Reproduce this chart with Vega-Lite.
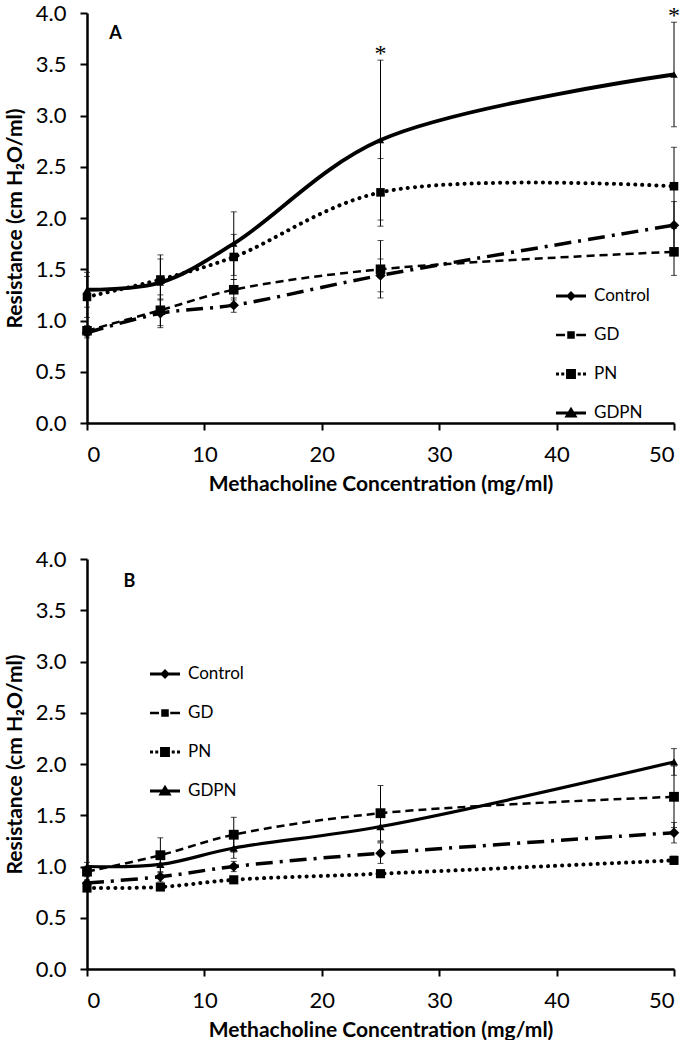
{
  "$schema": "https://vega.github.io/schema/vega-lite/v6.json",
  "background": "white",
  "padding": {"left": 4, "top": 2, "right": 0, "bottom": 0},
  "spacing": 54,
  "config": {
    "view": {"stroke": null},
    "font": "Lato",
    "axis": {
      "grid": false,
      "domainColor": "black",
      "domainWidth": 2.5,
      "tickColor": "black",
      "tickWidth": 2,
      "tickSize": 7,
      "labelFont": "Lato",
      "labelFontSize": 22,
      "labelColor": "black",
      "titleFont": "Lato",
      "titleFontSize": 21,
      "titleFontWeight": "bold",
      "titleColor": "black"
    },
    "legend": {
      "labelFont": "Lato",
      "labelFontSize": 17,
      "labelColor": "black"
    }
  },
  "datasets": {
    "A": [
      {"series": "Control", "conc": 0, "mean": 0.88, "err": 0.05},
      {"series": "Control", "conc": 6.25, "mean": 1.07, "err": 0.14},
      {"series": "Control", "conc": 12.5, "mean": 1.15, "err": 0.07},
      {"series": "Control", "conc": 25, "mean": 1.44, "err": 0.16},
      {"series": "Control", "conc": 50, "mean": 1.93, "err": 0.23},
      {"series": "GD", "conc": 0, "mean": 0.9, "err": 0.05},
      {"series": "GD", "conc": 6.25, "mean": 1.1, "err": 0.15},
      {"series": "GD", "conc": 12.5, "mean": 1.3, "err": 0.1},
      {"series": "GD", "conc": 25, "mean": 1.5, "err": 0.28},
      {"series": "GD", "conc": 50, "mean": 1.67, "err": 0.23},
      {"series": "PN", "conc": 0, "mean": 1.23, "err": 0.2},
      {"series": "PN", "conc": 6.25, "mean": 1.4, "err": 0.2},
      {"series": "PN", "conc": 12.5, "mean": 1.62, "err": 0.22},
      {"series": "PN", "conc": 25, "mean": 2.25, "err": 0.33},
      {"series": "PN", "conc": 50, "mean": 2.31, "err": 0.38},
      {"series": "GDPN", "conc": 0, "mean": 1.3, "err": 0.17},
      {"series": "GDPN", "conc": 6.25, "mean": 1.37, "err": 0.27},
      {"series": "GDPN", "conc": 12.5, "mean": 1.75, "err": 0.31},
      {"series": "GDPN", "conc": 25, "mean": 2.76, "err": 0.78},
      {"series": "GDPN", "conc": 50, "mean": 3.4, "err": 0.51}
    ],
    "B": [
      {"series": "Control", "conc": 0, "mean": 0.84, "err": 0.03},
      {"series": "Control", "conc": 6.25, "mean": 0.9, "err": 0.05},
      {"series": "Control", "conc": 12.5, "mean": 1.0, "err": 0.05},
      {"series": "Control", "conc": 25, "mean": 1.13, "err": 0.1},
      {"series": "Control", "conc": 50, "mean": 1.33, "err": 0.1},
      {"series": "GD", "conc": 0, "mean": 0.95, "err": 0.05},
      {"series": "GD", "conc": 6.25, "mean": 1.11, "err": 0.17},
      {"series": "GD", "conc": 12.5, "mean": 1.31, "err": 0.17},
      {"series": "GD", "conc": 25, "mean": 1.52, "err": 0.27},
      {"series": "GD", "conc": 50, "mean": 1.68, "err": 0.3},
      {"series": "PN", "conc": 0, "mean": 0.79, "err": 0.03},
      {"series": "PN", "conc": 6.25, "mean": 0.8, "err": 0.03},
      {"series": "PN", "conc": 12.5, "mean": 0.87, "err": 0.03},
      {"series": "PN", "conc": 25, "mean": 0.93, "err": 0.03},
      {"series": "PN", "conc": 50, "mean": 1.06, "err": 0.04},
      {"series": "GDPN", "conc": 0, "mean": 1.0, "err": 0.04},
      {"series": "GDPN", "conc": 6.25, "mean": 1.02, "err": 0.1},
      {"series": "GDPN", "conc": 12.5, "mean": 1.18, "err": 0.1},
      {"series": "GDPN", "conc": 25, "mean": 1.39, "err": 0.15},
      {"series": "GDPN", "conc": 50, "mean": 2.02, "err": 0.13}
    ],
    "starsA": [
      {"conc": 25, "top": 3.54, "label": "*"},
      {"conc": 50, "top": 3.91, "label": "*"}
    ],
    "labelA": [{"label": "A", "conc": 1.9, "y": 3.8}],
    "labelB": [{"label": "B", "conc": 3.1, "y": 3.78}]
  },
  "resolve": {"scale": {"shape": "independent", "size": "independent"}, "legend": {"shape": "independent"}},
  "vconcat": [
    {
      "width": 587,
      "height": 410,
      "data": {"name": "A"},
      "encoding": {
        "x": {"field": "conc", "type": "quantitative", "scale": {"domain": [0, 50], "nice": false}, "axis": {"values": [0, 10, 20, 30, 40, 50], "labelPadding": 14, "titlePadding": 8}, "title": "Methacholine Concentration (mg/ml)"},
        "y": {"field": "mean", "type": "quantitative", "scale": {"domain": [0, 4], "nice": false}, "axis": {"values": [0, 0.5, 1, 1.5, 2, 2.5, 3, 3.5, 4], "format": ".1f", "labelPadding": 14, "titlePadding": 10}, "title": "Resistance (cm H₂O/ml)"}
      },
      "layer": [
        {
          "mark": {"type": "errorbar", "color": "black", "thickness": 1, "ticks": {"size": 6, "thickness": 1, "color": "black"}},
          "encoding": {
            "x": {"field": "conc", "type": "quantitative"},
            "y": {"field": "mean", "type": "quantitative"},
            "yError": {"field": "err"},
            "detail": {"field": "series"}
          }
        },
        {
          "transform": [{"filter": "datum.series === 'GD'"}],
          "mark": {"type": "line", "color": "black", "interpolate": "catmull-rom", "strokeWidth": 2.5, "strokeDash": [8, 5]},
          "encoding": {}
        },
        {
          "transform": [{"filter": "datum.series === 'Control'"}],
          "mark": {"type": "line", "color": "black", "interpolate": "catmull-rom", "strokeWidth": 3.5, "strokeDash": [17, 7, 3, 7]},
          "encoding": {}
        },
        {
          "transform": [{"filter": "datum.series === 'PN'"}],
          "mark": {"type": "line", "color": "black", "interpolate": "catmull-rom", "strokeWidth": 4, "strokeDash": [0.1, 7], "strokeCap": "round"},
          "encoding": {}
        },
        {
          "transform": [{"filter": "datum.series === 'GDPN'"}],
          "mark": {"type": "line", "color": "black", "interpolate": "catmull-rom", "strokeWidth": 3.8},
          "encoding": {}
        },
        {
          "mark": {"type": "point", "filled": true, "color": "black", "opacity": 1},
          "encoding": {
            "shape": {"field": "series", "type": "nominal", "scale": {"domain": ["Control", "GD", "PN", "GDPN"], "range": ["diamond", "square", "square", "triangle-up"]}, "legend": null},
            "size": {"field": "series", "type": "nominal", "scale": {"domain": ["Control", "GD", "PN", "GDPN"], "range": [110, 55, 150, 300]}, "legend": null}
          }
        },
        {
          "mark": {"type": "point", "filled": true, "color": "black", "opacity": 0},
          "encoding": {
            "shape": {"field": "series", "type": "nominal", "scale": {"domain": ["Control", "GD", "PN", "GDPN"], "range": [
              "M-1,-0.1H1V0.1H-1Z M0,-0.33L0.33,0L0,0.33L-0.33,0Z",
              "M-1,-0.08H-0.4V0.08H-1Z M0.35,-0.08H1V0.08H0.35Z M-0.25,-0.25H0.25V0.25H-0.25Z",
              "M-1,-0.1H-0.8V0.1H-1Z M-0.65,-0.1H-0.45V0.1H-0.65Z M-0.33,-0.33H0.33V0.33H-0.33Z M0.45,-0.1H0.65V0.1H0.45Z M0.8,-0.1H1V0.1H0.8Z",
              "M-1,-0.1H1V0.1H-1Z M0,-0.42L0.44,0.3H-0.44Z"
            ]}, "legend": {"orient": "none", "legendX": 469, "legendY": 268, "title": null, "symbolSize": 900, "symbolOpacity": 1, "symbolFillColor": "black", "symbolStrokeWidth": 0, "rowPadding": 16, "labelOffset": 8}}
          }
        },
        {
          "data": {"name": "starsA"},
          "mark": {"type": "text", "font": "Liberation Serif", "fontSize": 24, "color": "black", "baseline": "middle", "dy": -6},
          "encoding": {
            "x": {"field": "conc", "type": "quantitative"},
            "y": {"field": "top", "type": "quantitative"},
            "text": {"field": "label"}
          }
        },
        {
          "data": {"name": "labelA"},
          "mark": {"type": "text", "font": "Lato", "fontSize": 18, "fontWeight": "bold", "color": "black", "baseline": "middle", "align": "left"},
          "encoding": {
            "x": {"field": "conc", "type": "quantitative"},
            "y": {"field": "y", "type": "quantitative"},
            "text": {"field": "label"}
          }
        }
      ],
      "resolve": {"scale": {"shape": "independent"}, "legend": {"shape": "independent"}}
    },
    {
      "width": 587,
      "height": 410,
      "data": {"name": "B"},
      "encoding": {
        "x": {"field": "conc", "type": "quantitative", "scale": {"domain": [0, 50], "nice": false}, "axis": {"values": [0, 10, 20, 30, 40, 50], "labelPadding": 14, "titlePadding": 8}, "title": "Methacholine Concentration (mg/ml)"},
        "y": {"field": "mean", "type": "quantitative", "scale": {"domain": [0, 4], "nice": false}, "axis": {"values": [0, 0.5, 1, 1.5, 2, 2.5, 3, 3.5, 4], "format": ".1f", "labelPadding": 14, "titlePadding": 10}, "title": "Resistance (cm H₂O/ml)"}
      },
      "layer": [
        {
          "mark": {"type": "errorbar", "color": "black", "thickness": 1, "ticks": {"size": 6, "thickness": 1, "color": "black"}},
          "encoding": {
            "x": {"field": "conc", "type": "quantitative"},
            "y": {"field": "mean", "type": "quantitative"},
            "yError": {"field": "err"},
            "detail": {"field": "series"}
          }
        },
        {
          "transform": [{"filter": "datum.series === 'GD'"}],
          "mark": {"type": "line", "color": "black", "interpolate": "catmull-rom", "strokeWidth": 2.5, "strokeDash": [8, 5]},
          "encoding": {}
        },
        {
          "transform": [{"filter": "datum.series === 'Control'"}],
          "mark": {"type": "line", "color": "black", "interpolate": "catmull-rom", "strokeWidth": 3.5, "strokeDash": [17, 7, 3, 7]},
          "encoding": {}
        },
        {
          "transform": [{"filter": "datum.series === 'PN'"}],
          "mark": {"type": "line", "color": "black", "interpolate": "catmull-rom", "strokeWidth": 4, "strokeDash": [0.1, 7], "strokeCap": "round"},
          "encoding": {}
        },
        {
          "transform": [{"filter": "datum.series === 'GDPN'"}],
          "mark": {"type": "line", "color": "black", "interpolate": "catmull-rom", "strokeWidth": 3.2},
          "encoding": {}
        },
        {
          "mark": {"type": "point", "filled": true, "color": "black", "opacity": 1},
          "encoding": {
            "shape": {"field": "series", "type": "nominal", "scale": {"domain": ["Control", "GD", "PN", "GDPN"], "range": ["diamond", "square", "square", "triangle-up"]}, "legend": null},
            "size": {"field": "series", "type": "nominal", "scale": {"domain": ["Control", "GD", "PN", "GDPN"], "range": [110, 70, 150, 300]}, "legend": null}
          }
        },
        {
          "mark": {"type": "point", "filled": true, "color": "black", "opacity": 0},
          "encoding": {
            "shape": {"field": "series", "type": "nominal", "scale": {"domain": ["Control", "GD", "PN", "GDPN"], "range": [
              "M-1,-0.1H1V0.1H-1Z M0,-0.33L0.33,0L0,0.33L-0.33,0Z",
              "M-1,-0.08H-0.4V0.08H-1Z M0.35,-0.08H1V0.08H0.35Z M-0.25,-0.25H0.25V0.25H-0.25Z",
              "M-1,-0.1H-0.8V0.1H-1Z M-0.65,-0.1H-0.45V0.1H-0.65Z M-0.33,-0.33H0.33V0.33H-0.33Z M0.45,-0.1H0.65V0.1H0.45Z M0.8,-0.1H1V0.1H0.8Z",
              "M-1,-0.1H1V0.1H-1Z M0,-0.42L0.44,0.3H-0.44Z"
            ]}, "legend": {"orient": "none", "legendX": 63, "legendY": 100, "title": null, "symbolSize": 900, "symbolOpacity": 1, "symbolFillColor": "black", "symbolStrokeWidth": 0, "rowPadding": 16, "labelOffset": 8}}
          }
        },
        {
          "data": {"name": "labelB"},
          "mark": {"type": "text", "font": "Lato", "fontSize": 18, "fontWeight": "bold", "color": "black", "baseline": "middle", "align": "left"},
          "encoding": {
            "x": {"field": "conc", "type": "quantitative"},
            "y": {"field": "y", "type": "quantitative"},
            "text": {"field": "label"}
          }
        }
      ],
      "resolve": {"scale": {"shape": "independent"}, "legend": {"shape": "independent"}}
    }
  ]
}
